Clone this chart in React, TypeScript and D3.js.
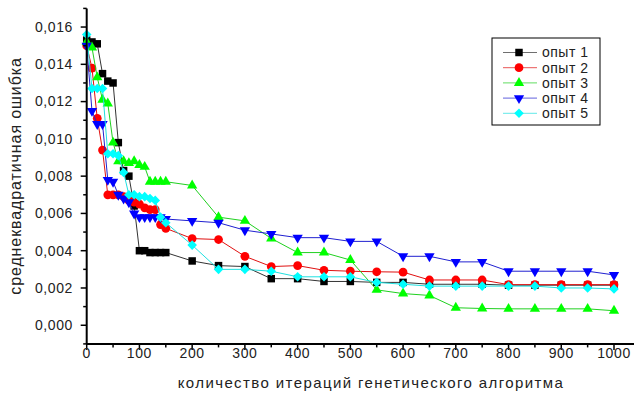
import * as d3 from 'd3';

// iterations of the genetic algorithm (x values)
const iterations = [
  0, 10, 20, 30, 40, 50, 60, 70, 80, 90, 100, 110, 120, 130, 140, 150,
  200, 250, 300, 350, 400, 450, 500, 550, 600, 650, 700, 750, 800, 850, 900, 950, 1000,
];

const run1 = [
  0.0153, 0.0152, 0.0151, 0.0135, 0.0131, 0.013, 0.0098, 0.0083, 0.008, 0.0064, 0.004, 0.004, 0.0039, 0.0039, 0.0039, 0.0039,
  0.00345, 0.0032, 0.00315, 0.0025, 0.0025, 0.00235, 0.00235, 0.0023, 0.0023, 0.0022, 0.0022, 0.0022, 0.00215, 0.00215, 0.00215, 0.00215, 0.00215,
];
const run2 = [
  0.015, 0.0138, 0.0111, 0.0094, 0.007, 0.007, 0.007, 0.0069, 0.0067, 0.0066, 0.0065, 0.0063, 0.0062, 0.0062, 0.0054, 0.0052,
  0.00465, 0.0046, 0.0037, 0.00315, 0.0032, 0.00295, 0.0029, 0.00287, 0.00285, 0.00243, 0.00243, 0.00243, 0.00218, 0.00218, 0.00218, 0.00218, 0.00218,
];
const run3 = [
  0.0152, 0.0149, 0.0133, 0.0121, 0.0119, 0.0098, 0.0088, 0.0088, 0.0087, 0.0088, 0.0086, 0.0085, 0.0077, 0.0077, 0.0077, 0.0077,
  0.0075, 0.0058, 0.0056, 0.00466, 0.0039, 0.0039, 0.0035, 0.0019, 0.0017, 0.0016, 0.00094, 0.0009, 0.00088, 0.00088, 0.00088, 0.00088, 0.00078,
];
const run4 = [
  0.015, 0.0115, 0.0108, 0.0108, 0.0078, 0.0077, 0.007, 0.0068, 0.0066, 0.006, 0.0058, 0.0058, 0.0058, 0.0058, 0.0058, 0.0057,
  0.0056, 0.0055, 0.0051, 0.0049, 0.0047, 0.0047, 0.0045, 0.0045, 0.0037, 0.0037, 0.0034, 0.0034, 0.0029, 0.0029, 0.0029, 0.0029, 0.0027,
];
const run5 = [
  0.0156, 0.0127, 0.0127, 0.0127, 0.0092, 0.0092, 0.0091, 0.0082, 0.007, 0.007, 0.0069, 0.0069, 0.0068, 0.0067, 0.0058, 0.0055,
  0.0043, 0.003, 0.003, 0.0029, 0.0026, 0.0026, 0.0026, 0.0023, 0.0022, 0.0021, 0.0021, 0.0021, 0.0021, 0.0021, 0.002, 0.002, 0.00195,
];

const seriesNames = ['опыт 1', 'опыт 2', 'опыт 3', 'опыт 4', 'опыт 5'];
const seriesValues = [run1, run2, run3, run4, run5];

const xTicks = [0, 100, 200, 300, 400, 500, 600, 700, 800, 900, 1000];
const yTicks = [0, 0.002, 0.004, 0.006, 0.008, 0.01, 0.012, 0.014, 0.016];

const colors = ['#000000', '#ff0000', '#00ff00', '#0000ff', '#00ffff'];
const lineColors = ['#333333', '#e01010', '#20d020', '#2020d0', '#20e0e0'];

const W = 637;
const H = 393;
const font = '"Liberation Sans", Arial, sans-serif';

const x = d3.scaleLinear().domain([0, 1000]).range([86.7, 614]);
const y = d3.scaleLinear().domain([-0.001, 0.017]).range([343.9, 8.4]);

// marker shape for each series
function markerPath(i: number) {
  if (i === 0) return d3.symbol().type(d3.symbolSquare).size(56)() || '';
  if (i === 1) return d3.symbol().type(d3.symbolCircle).size(60)() || '';
  if (i === 4) return d3.symbol().type(d3.symbolSquare).size(46)() || '';
  return d3.symbol().type(d3.symbolTriangle).size(46)() || '';
}
function markerTransform(i: number, cx: number, cy: number) {
  if (i === 3) return `translate(${cx},${cy}) rotate(180)`;
  if (i === 4) return `translate(${cx},${cy}) rotate(45)`;
  return `translate(${cx},${cy})`;
}

export default function App() {
  const line = d3
    .line<number>()
    .x((_, i) => x(iterations[i]))
    .y((d) => y(d));

  const xMinor = d3.range(50, 1001, 100);
  const yMinor = d3.range(-0.001, 0.0171, 0.002);

  const legendX = 492;
  const legendY = 38;

  return (
    <svg
      width={W}
      height={H}
      style={{ position: 'absolute', left: 0, top: 0, background: '#fff' }}
      fontFamily={font}
    >
      {/* series */}
      {seriesValues.map((vals, si) => (
        <g key={si}>
          <path d={line(vals) || ''} fill="none" stroke={lineColors[si]} strokeWidth={1} />
          {vals.map((v, j) => (
            <path
              key={j}
              d={markerPath(si)}
              transform={markerTransform(si, x(iterations[j]), y(v))}
              fill={colors[si]}
            />
          ))}
        </g>
      ))}

      {/* axes */}
      <line x1={x(0)} x2={x(0)} y1={y(0.017)} y2={y(-0.001)} stroke="#000" strokeWidth={2} />
      <line x1={x(0)} x2={634} y1={y(-0.001)} y2={y(-0.001)} stroke="#000" strokeWidth={2} />

      {yTicks.map((t) => (
        <g key={t}>
          <line x1={x(0) - 6} x2={x(0)} y1={y(t)} y2={y(t)} stroke="#000" strokeWidth={1.5} />
          <text
            x={73}
            y={y(t)}
            dy="0.35em"
            textAnchor="end"
            fontSize={14}
            letterSpacing={0.6}
            fill="#222"
          >
            {d3.format('.3f')(t).replace('.', ',')}
          </text>
        </g>
      ))}
      {yMinor.map((t, i) => (
        <line key={i} x1={x(0) - 3.5} x2={x(0)} y1={y(t)} y2={y(t)} stroke="#000" strokeWidth={1.5} />
      ))}

      {xTicks.map((t) => (
        <g key={t}>
          <line x1={x(t)} x2={x(t)} y1={y(-0.001)} y2={y(-0.001) + 6} stroke="#000" strokeWidth={1.5} />
          <text x={x(t)} y={358} textAnchor="middle" fontSize={14} letterSpacing={0.6} fill="#222">
            {t}
          </text>
        </g>
      ))}
      {xMinor.map((t) => (
        <line key={t} x1={x(t)} x2={x(t)} y1={y(-0.001)} y2={y(-0.001) + 3.5} stroke="#000" strokeWidth={1.5} />
      ))}

      {/* axis titles */}
      <text x={371} y={388} textAnchor="middle" fontSize={15} letterSpacing={1.4} fill="#222">
        количество итераций генетического алгоритма
      </text>
      <text
        transform={`translate(21,176) rotate(-90)`}
        textAnchor="middle"
        fontSize={16}
        letterSpacing={0.9}
        fill="#222"
      >
        среднеквадратичная ошибка
      </text>

      {/* legend */}
      <rect x={legendX} y={legendY} width={108} height={87} fill="#fff" stroke="#000" strokeWidth={1} />
      {seriesNames.map((name, i) => {
        const ry = legendY + 14.5 + i * 15.2;
        return (
          <g key={name}>
            <line x1={503} x2={537} y1={ry} y2={ry} stroke={lineColors[i]} strokeWidth={1} opacity={0.7} />
            <path d={markerPath(i)} transform={markerTransform(i, 519, ry)} fill={colors[i]} />
            <text x={542} y={ry} dy="0.35em" fontSize={14} letterSpacing={0.5} fill="#222">
              {name}
            </text>
          </g>
        );
      })}
    </svg>
  );
}
